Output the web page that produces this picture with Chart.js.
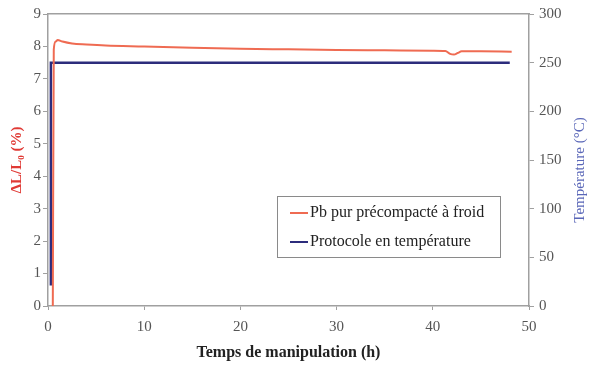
<!DOCTYPE html>
<html>
<head>
<meta charset="utf-8">
<script src="https://cdn.jsdelivr.net/npm/chart.js@4/dist/chart.umd.min.js"></script>
<style>
  html, body { margin: 0; padding: 0; background: #fff; }
  #wrap { width: 590px; height: 365px; }
</style>
</head>
<body>
<div id="wrap"><canvas id="c"></canvas></div>
<script>
/* Dilatation et température en fonction du temps */

// Pb pur précompacté à froid — ΔL/L0 (%)
const dlTime   = [0.5, 0.6, 0.8, 1.0, 1.5, 2.5, 4, 6, 10, 15, 20, 25, 30, 35, 40, 41.3, 41.8, 42.2, 42.6, 43, 45, 48.2];
const dlValues = [0, 7.9, 8.15, 8.2, 8.15, 8.09, 8.06, 8.03, 8.0, 7.96, 7.93, 7.91, 7.89, 7.88, 7.87, 7.86, 7.77, 7.75, 7.8, 7.85, 7.85, 7.84];

// Protocole en température — °C
const tempTime   = [0.3, 0.3, 48];
const tempValues = [21, 250, 250];

const labels = ['Pb pur précompacté à froid', 'Protocole en température'];
const xTicks = [0, 10, 20, 30, 40, 50];
const rightTitle = 'Température (°C)';

const RED = '#ef6b52';
const BLUE = '#2c2c7c';
const AXIS = '#a0a0a0';
const FONT = "'Liberation Serif', 'Times New Roman', serif";

const toPoints = (xs, ys) => xs.map((x, i) => ({ x, y: ys[i] }));

/* ── Légende encadrée + titre de droite lu de bas en haut ── */
const boxLegend = {
  id: 'boxLegend',
  afterDraw(chart) {
    const ctx = chart.ctx;
    const area = chart.chartArea;
    const x = 277, y = 196, w = 223, h = 61;
    ctx.save();
    ctx.fillStyle = '#fff';
    ctx.fillRect(x, y, w, h);
    ctx.strokeStyle = '#8a8a8a';
    ctx.lineWidth = 1;
    ctx.strokeRect(x + 0.5, y + 0.5, w, h);
    ctx.font = '16px ' + FONT;
    ctx.textBaseline = 'middle';
    chart.data.datasets.forEach((ds, i) => {
      const cy = y + 17 + i * 29;
      ctx.strokeStyle = ds.borderColor;
      ctx.lineWidth = 2;
      ctx.beginPath();
      ctx.moveTo(x + 13, cy);
      ctx.lineTo(x + 31, cy);
      ctx.stroke();
      ctx.fillStyle = '#222';
      ctx.fillText(ds.label, x + 33, cy);
    });

    // titre axe droit
    ctx.translate(580, (area.top + area.bottom) / 2 + 10);
    ctx.rotate(-Math.PI / 2);
    ctx.textAlign = 'center';
    ctx.fillStyle = '#5a67b8';
    ctx.font = '15px ' + FONT;
    ctx.fillText(rightTitle, 0, 0);
    ctx.restore();
  }
};

new Chart(document.getElementById('c'), {
  type: 'line',
  data: {
    datasets: [
      {
        label: labels[0],
        data: toPoints(dlTime, dlValues),
        borderColor: RED,
        borderWidth: 2,
        pointRadius: 0,
        cubicInterpolationMode: 'monotone',
        yAxisID: 'y',
      },
      {
        label: labels[1],
        data: toPoints(tempTime, tempValues),
        borderColor: BLUE,
        borderWidth: 2.5,
        pointRadius: 0,
        tension: 0,
        yAxisID: 'y1',
      }
    ]
  },
  options: {
    responsive: true,
    maintainAspectRatio: false,
    animation: false,
    layout: { padding: { top: 14, right: 0, bottom: 0, left: 0 } },
    plugins: { legend: { display: false }, tooltip: { enabled: false } },
    scales: {
      x: {
        type: 'linear',
        min: 0, max: 50,
        afterBuildTicks: s => { s.ticks = xTicks.map(v => ({ value: v })); },
        afterFit: s => { s.height = 59; },
        grid: { drawOnChartArea: false, color: AXIS, tickLength: 4 },
        border: { color: AXIS, width: 1.5 },
        ticks: { color: '#555', font: { family: FONT, size: 15 }, padding: 8 },
        title: {
          display: true, text: 'Temps de manipulation (h)', color: '#222',
          font: { family: FONT, size: 16, weight: 'bold' }, padding: { top: 0, bottom: 3 }
        }
      },
      xTop: {
        type: 'linear', position: 'top', min: 0, max: 50,
        afterFit: s => { s.height = 0; },
        grid: { display: false },
        ticks: { display: false },
        border: { color: AXIS, width: 1.5 }
      },
      y: {
        position: 'left',
        min: 0, max: 9,
        afterFit: s => { s.width = 48; },
        grid: { drawOnChartArea: false, color: AXIS, tickLength: 5 },
        border: { color: AXIS, width: 1.5 },
        ticks: { stepSize: 1, color: '#555', font: { family: FONT, size: 15 }, padding: 2 },
        title: {
          display: true, text: 'ΔL/L₀ (%)', color: '#e03a35',
          font: { family: FONT, size: 15, weight: 'bold' }, padding: { top: 8, bottom: 0 }
        }
      },
      y1: {
        position: 'right',
        min: 0, max: 300,
        afterFit: s => { s.width = 61; },
        grid: { drawOnChartArea: false, color: AXIS, tickLength: 5 },
        border: { color: AXIS, width: 1.5 },
        ticks: { stepSize: 50, color: '#555', font: { family: FONT, size: 15 }, padding: 5 },
        title: { display: false }
      }
    }
  },
  plugins: [boxLegend]
});
</script>
</body>
</html>
